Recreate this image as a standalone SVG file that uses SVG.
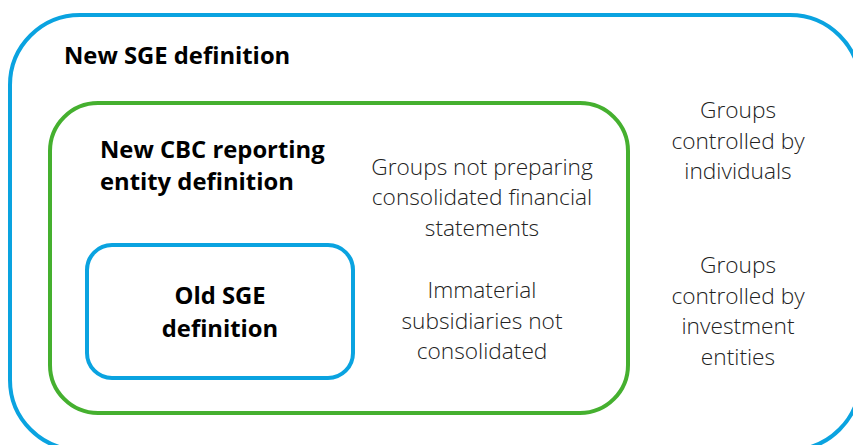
<svg xmlns="http://www.w3.org/2000/svg" width="853" height="445" viewBox="0 0 853 445">
<style>
.box{fill:none;stroke-width:4}
.blue{stroke:#0AA3E0}
.green{stroke:#45B02F}
.b{font-family:"Open Sans","Liberation Sans",sans-serif;font-weight:700;font-size:23.8px;fill:#000}
.r{font-family:"Open Sans","Liberation Sans",sans-serif;font-weight:300;font-size:22.7px;fill:#222;text-anchor:middle}
</style>
<rect width="853" height="445" fill="#fff"/>
<g id="new-sge">
<rect class="box blue" x="10" y="15" width="850" height="435" rx="70" ry="70"/>
<text class="b" x="64" y="64">New SGE definition</text>
</g>
<g id="new-cbc">
<rect class="box green" x="50" y="103" width="578" height="310" rx="48" ry="48"/>
<text class="b" x="100" y="158">New CBC reporting</text>
<text class="b" x="100" y="190">entity definition</text>
</g>
<g id="old-sge">
<rect class="box blue" x="87" y="245" width="266" height="133" rx="25" ry="25"/>
<text class="b" x="220" y="304" text-anchor="middle">Old SGE</text>
<text class="b" x="220" y="337" text-anchor="middle">definition</text>
</g>
<g id="not-preparing">
<text class="r" x="482" y="175">Groups not preparing</text>
<text class="r" x="482" y="205">consolidated financial</text>
<text class="r" x="482" y="236">statements</text>
</g>
<g id="immaterial">
<text class="r" x="482" y="298">Immaterial</text>
<text class="r" x="482" y="329">subsidiaries not</text>
<text class="r" x="482" y="359">consolidated</text>
</g>
<g id="individuals">
<text class="r" x="738" y="118">Groups</text>
<text class="r" x="738" y="149">controlled by</text>
<text class="r" x="738" y="179">individuals</text>
</g>
<g id="investment">
<text class="r" x="738" y="273">Groups</text>
<text class="r" x="738" y="304">controlled by</text>
<text class="r" x="738" y="334">investment</text>
<text class="r" x="738" y="365">entities</text>
</g>
<g id="connectors"/>
</svg>
